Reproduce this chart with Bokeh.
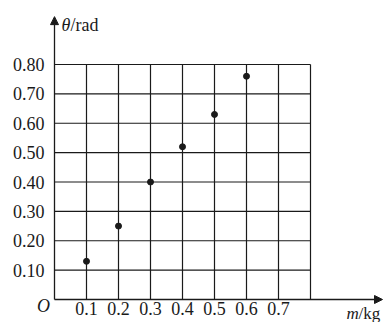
from bokeh.plotting import figure
from bokeh.models import Range1d, Arrow, NormalHead, Label
from bokeh.core.properties import value
from bokeh.embed import file_html
from bokeh.resources import INLINE

# data
mass = [0.1, 0.2, 0.3, 0.4, 0.5, 0.6]
theta = [0.13, 0.25, 0.40, 0.52, 0.63, 0.76]

x_ticks = [0.1, 0.2, 0.3, 0.4, 0.5, 0.6, 0.7]
x_tick_labels = ["0.1", "0.2", "0.3", "0.4", "0.5", "0.6", "0.7"]
y_ticks = [0.10, 0.20, 0.30, 0.40, 0.50, 0.60, 0.70, 0.80]
y_tick_labels = ["0.10", "0.20", "0.30", "0.40", "0.50", "0.60", "0.70", "0.80"]
grid_x = [0.1, 0.2, 0.3, 0.4, 0.5, 0.6, 0.7, 0.8]
grid_y = [0.1, 0.2, 0.3, 0.4, 0.5, 0.6, 0.7, 0.8]
grid_max = 0.8

INK = "#1a1a1a"
FONT = "Liberation Serif"

p = figure(width=383, height=322,
           x_range=Range1d(-0.16875, 1.028125), y_range=Range1d(-0.0783, 1.0179),
           x_axis_location=None, y_axis_location=None,
           output_backend="svg", toolbar_location=None,
           min_border=0, min_border_left=0, min_border_right=0,
           min_border_top=0, min_border_bottom=0)
p.grid.visible = False
p.outline_line_color = None
p.background_fill_color = "white"

# grid
p.segment(x0=grid_x, y0=[0] * len(grid_x), x1=grid_x, y1=[grid_max] * len(grid_x),
          line_color=INK, line_width=1.2)
p.segment(x0=[0] * len(grid_y), y0=grid_y, x1=[grid_max] * len(grid_y), y1=grid_y,
          line_color=INK, line_width=1.2)

# axes with arrows
p.add_layout(Arrow(end=NormalHead(size=8, fill_color=INK, line_color=INK, line_width=1),
                   x_start=0, y_start=0, x_end=1.025, y_end=0,
                   line_color=INK, line_width=1.3))
p.add_layout(Arrow(end=NormalHead(size=8, fill_color=INK, line_color=INK, line_width=1),
                   x_start=0, y_start=0, x_end=0, y_end=0.963,
                   line_color=INK, line_width=1.3))

# data points
p.scatter(mass, theta, size=6, color=INK)

# tick labels
p.text(x=x_ticks, y=[0] * len(x_ticks), text=x_tick_labels,
       y_offset=9, text_align="center", text_baseline="middle",
       text_font=value(FONT), text_font_size="18px", text_color=INK)
p.text(x=[0] * len(y_ticks), y=y_ticks, text=y_tick_labels,
       x_offset=-10, text_align="right", text_baseline="middle",
       text_font=value(FONT), text_font_size="18px", text_color=INK)

# origin and axis titles
p.add_layout(Label(x=0, y=0, x_offset=-11, y_offset=-6, text="O",
                   text_align="center", text_baseline="middle",
                   text_font=FONT, text_font_style="italic",
                   text_font_size="18px", text_color=INK))
p.add_layout(Label(x=0, y=grid_max, x_offset=7, y_offset=40, text="θ",
                   text_align="left", text_baseline="middle",
                   text_font=FONT, text_font_style="italic",
                   text_font_size="18px", text_color=INK))
p.add_layout(Label(x=0, y=grid_max, x_offset=16, y_offset=40, text="/rad",
                   text_align="left", text_baseline="middle",
                   text_font=FONT, text_font_size="18px", text_color=INK))
p.add_layout(Label(x=grid_max, y=0, x_offset=36, y_offset=-14, text="m",
                   text_align="left", text_baseline="alphabetic",
                   text_font=FONT, text_font_style="italic",
                   text_font_size="17px", text_color=INK))
p.add_layout(Label(x=grid_max, y=0, x_offset=48, y_offset=-14, text="/kg",
                   text_align="left", text_baseline="alphabetic",
                   text_font=FONT, text_font_size="17px", text_color=INK))

open("out.html", "w").write(file_html(p, INLINE))
